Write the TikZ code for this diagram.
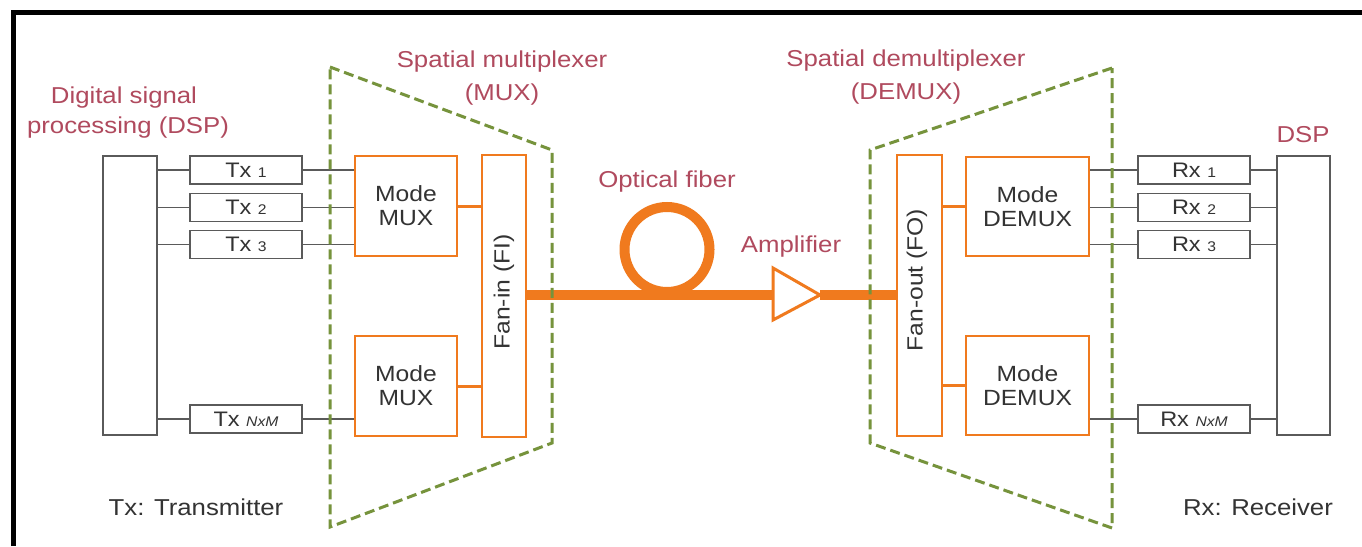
\documentclass[tikz,border=0pt]{standalone}
\usepackage{fontspec}
\setmainfont[FakeStretch=1.12]{Liberation Sans}
\definecolor{orng}{HTML}{F07A1E}
\definecolor{boxgray}{HTML}{5A5A5A}
\definecolor{lblred}{HTML}{B04A5E}
\definecolor{grnc}{HTML}{76933C}
\definecolor{txtdark}{HTML}{333333}
\newcommand\subsc[1]{{\fontsize{14}{14}\selectfont #1}}
\tikzset{
  gbox/.style={draw=boxgray, line width=1.8pt, fill=white, inner sep=0pt},
  txbox/.style={gbox, minimum width=112pt, minimum height=28pt, text=txtdark, font=\fontsize{21}{24}\selectfont},
  obox/.style={draw=orng, line width=2.2pt, fill=white, inner sep=0pt, text=txtdark, align=center, font=\fontsize{22}{24}\selectfont},
  lbl/.style={text=lblred, font=\fontsize{23}{30}\selectfont, inner sep=0pt},
  blk/.style={text=txtdark, font=\fontsize{23}{30}\selectfont, inner sep=0pt},
  wire/.style={draw=boxgray, line width=1.5pt},
  owire/.style={draw=orng, line width=3pt},
  fiber/.style={draw=orng, line width=9.5pt},
  greendash/.style={draw=grnc, line width=3pt, dash pattern=on 10pt off 5pt, line join=miter},
}
\begin{document}
\begin{tikzpicture}[x=1pt,y=-1pt]
\useasboundingbox (0,0) rectangle (1362,546);
\fill[white] (0,0) rectangle (1362,546);
\draw[line width=5pt] (13,546) -- (13,12) -- (1362,12);

% left side
\node[gbox, minimum width=54pt, minimum height=279pt] (dspL) at (130,295.5) {};
\node[txbox] (tx1) at (246,170) {Tx \subsc{1}};
\node[txbox] (tx2) at (246,207.5) {Tx \subsc{2}};
\node[txbox] (tx3) at (246,244.5) {Tx \subsc{3}};
\node[txbox] (txN) at (246,419) {Tx \subsc{\itshape NxM}};
\node[obox, minimum width=102pt, minimum height=100pt] (mux1) at (406,206) {Mode\\MUX};
\node[obox, minimum width=102pt, minimum height=100pt] (mux2) at (406,386) {Mode\\MUX};
\node[obox, minimum width=44pt, minimum height=282pt] (fi) at (504,296) {};
\node[rotate=90, text=txtdark, font=\fontsize{22}{24}\selectfont, inner sep=0pt] (fitext) at (504,292) {Fan-in (FI)};

% right side
\node[gbox, minimum width=53pt, minimum height=279pt] (dspR) at (1303.5,295.5) {};
\node[txbox] (rx1) at (1194,170) {Rx \subsc{1}};
\node[txbox] (rx2) at (1194,207.5) {Rx \subsc{2}};
\node[txbox] (rx3) at (1194,244.5) {Rx \subsc{3}};
\node[txbox] (rxN) at (1194,419) {Rx \subsc{\itshape NxM}};
\node[obox, minimum width=123pt, minimum height=99pt] (dmx1) at (1027.5,206.5) {Mode\\DEMUX};
\node[obox, minimum width=123pt, minimum height=99pt] (dmx2) at (1027.5,385.5) {Mode\\DEMUX};
\node[obox, minimum width=45pt, minimum height=281pt] (fo) at (919.5,295.5) {};
\node[rotate=90, text=txtdark, font=\fontsize{22}{24}\selectfont, inner sep=0pt] (fotext) at (917,280) {Fan-out (FO)};

% gray wires
\foreach \t in {tx1,tx2,tx3,txN}{
  \draw[wire] (dspL.east |- \t.west) -- (\t.west);
}
\draw[wire] (tx1.east) -- (tx1.east -| mux1.west);
\draw[wire] (tx2.east) -- (tx2.east -| mux1.west);
\draw[wire] (tx3.east) -- (tx3.east -| mux1.west);
\draw[wire] (txN.east) -- (txN.east -| mux2.west);
\foreach \r in {rx1,rx2,rx3,rxN}{
  \draw[wire] (\r.east) -- (\r.east -| dspR.west);
}
\draw[wire] (rx1.west -| dmx1.east) -- (rx1.west);
\draw[wire] (rx2.west -| dmx1.east) -- (rx2.west);
\draw[wire] (rx3.west -| dmx1.east) -- (rx3.west);
\draw[wire] (rxN.west -| dmx2.east) -- (rxN.west);

% orange short links
\draw[owire] (mux1.east) -- (mux1.east -| fi.west);
\draw[owire] (mux2.east) -- (mux2.east -| fi.west);
\draw[owire] (fo.east |- dmx1.west) -- (dmx1.west);
\draw[owire] (fo.east |- dmx2.west) -- (dmx2.west);

% fiber and amplifier
\coordinate (ampL) at (773,295);
\coordinate (ampR) at (820,295);
\node[circle, draw=orng, line width=10pt, minimum size=85pt, inner sep=0pt] (loop) at (667,249.5) {};
\draw[fiber] (fi.east |- ampL) -- (ampL);
\draw[orng, line width=3pt, fill=white, line join=miter] (773,268) -- (ampR) -- (773,320) -- cycle;
\draw[fiber] (ampR) -- (ampR -| fo.west);

% green dashed trapezoids
\draw[greendash] (330,67) -- (552,150) -- (552,443) -- (330,527) -- cycle;
\draw[greendash] (1112,68) -- (870,150) -- (870,443) -- (1112,528) -- cycle;

% labels
\node[lbl, anchor=base] (l1) at (124,103) {Digital signal};
\node[lbl, anchor=base] (l2) at (128,133) {processing (DSP)};
\node[lbl, anchor=base] (l3) at (502,67) {Spatial multiplexer};
\node[lbl, anchor=base] (l4) at (502,100) {(MUX)};
\node[lbl, anchor=base] (l5) at (906,66) {Spatial demultiplexer};
\node[lbl, anchor=base] (l6) at (906,99) {(DEMUX)};
\node[lbl, anchor=base] (l7) at (667,187) {Optical fiber};
\node[lbl, anchor=base] (l8) at (791,252) {Amplifier};
\node[lbl, anchor=base] (l9) at (1303,142) {DSP};
\node[blk] (l10) at (196,507) {Tx: Transmitter};
\node[blk] (l11) at (1258,507) {Rx: Receiver};
\end{tikzpicture}
\end{document}
